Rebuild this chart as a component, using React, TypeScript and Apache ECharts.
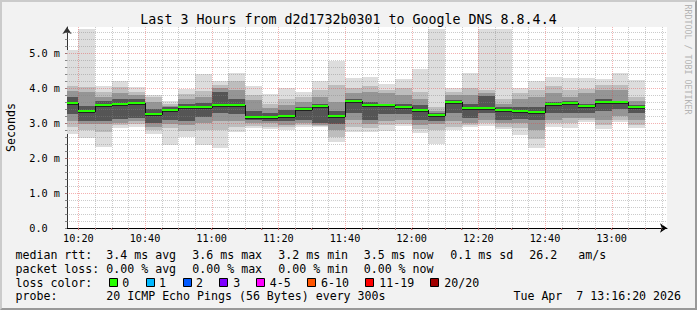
import React, { useEffect, useRef } from "react";
import * as echarts from "echarts";

// ---- data (milliseconds) ----
const bucketStarts = [
  "10:15", "10:20", "10:25", "10:30", "10:35", "10:40", "10:45", "10:50", "10:55",
  "11:00", "11:05", "11:10", "11:15", "11:20", "11:25", "11:30", "11:35", "11:40",
  "11:45", "11:50", "11:55", "12:00", "12:05", "12:10", "12:15", "12:20", "12:25",
  "12:30", "12:35", "12:40", "12:45", "12:50", "12:55", "13:00", "13:05",
];
const rttMin = [2.69, 2.56, 2.32, 2.86, 2.88, 2.69, 2.38, 2.59, 2.38, 2.29, 2.75, 2.86, 2.83, 2.80, 2.89, 2.88, 2.47, 2.75, 2.73, 2.78, 2.91, 2.71, 2.39, 2.80, 2.88, 2.91, 2.83, 2.67, 2.29, 2.88, 2.87, 3.02, 2.83, 3.04, 2.87];
const rttLo2 = [2.88, 2.81, 2.75, 2.95, 2.97, 2.80, 2.85, 2.78, 2.80, 2.80, 2.88, 2.92, 2.90, 2.88, 2.95, 2.92, 2.60, 2.90, 2.85, 2.95, 2.98, 2.82, 2.80, 2.90, 2.95, 3.00, 2.90, 2.85, 2.55, 3.00, 3.00, 3.08, 2.95, 3.10, 2.95];
const rttLo3 = [3.07, 2.97, 2.97, 3.00, 3.05, 2.90, 2.97, 2.95, 3.00, 3.05, 3.05, 3.00, 3.00, 2.95, 3.00, 2.95, 2.80, 3.10, 2.97, 3.05, 3.10, 2.95, 2.98, 3.05, 3.00, 3.10, 3.00, 3.00, 2.80, 3.10, 3.15, 3.15, 3.10, 3.20, 3.10];
const rttLo4 = [3.26, 3.07, 3.05, 3.12, 3.15, 3.00, 3.10, 3.07, 3.16, 3.30, 3.25, 3.08, 3.07, 3.05, 3.08, 3.00, 2.97, 3.30, 3.10, 3.25, 3.25, 3.10, 3.07, 3.30, 3.15, 3.30, 3.10, 3.12, 3.10, 3.30, 3.30, 3.30, 3.35, 3.40, 3.30];
const rttMedian = [3.58, 3.35, 3.52, 3.55, 3.58, 3.27, 3.36, 3.46, 3.46, 3.51, 3.51, 3.18, 3.18, 3.21, 3.41, 3.49, 3.21, 3.64, 3.52, 3.52, 3.47, 3.37, 3.24, 3.61, 3.43, 3.43, 3.38, 3.34, 3.32, 3.54, 3.58, 3.49, 3.59, 3.59, 3.47];
const rttHi4 = [3.73, 3.50, 3.62, 3.70, 3.68, 3.40, 3.45, 3.54, 3.56, 3.88, 3.70, 3.35, 3.30, 3.38, 3.45, 3.55, 3.35, 3.70, 3.60, 3.55, 3.55, 3.52, 3.28, 3.66, 3.55, 3.78, 3.45, 3.45, 3.45, 3.60, 3.62, 3.55, 3.70, 3.60, 3.52];
const rttHi3 = [3.92, 3.90, 3.75, 3.85, 3.80, 3.59, 3.50, 3.70, 3.73, 4.00, 3.95, 3.65, 3.42, 3.52, 3.60, 3.75, 3.60, 3.85, 3.90, 3.85, 3.80, 3.70, 3.35, 3.80, 3.80, 3.85, 3.55, 3.70, 3.75, 3.85, 3.75, 3.85, 3.95, 3.95, 3.62];
const rttHi2 = [4.07, 4.02, 3.90, 4.02, 3.90, 3.75, 3.55, 3.83, 3.92, 4.10, 4.20, 3.80, 3.55, 3.70, 3.75, 3.95, 4.10, 4.00, 4.05, 3.95, 4.00, 3.88, 3.45, 3.90, 4.00, 3.95, 3.70, 3.85, 3.95, 4.05, 3.95, 3.98, 4.10, 4.10, 3.75];
const rttMax = [5.09, 5.68, 4.07, 4.21, 4.02, 3.80, 3.64, 3.98, 4.39, 4.21, 4.44, 4.06, 3.83, 4.01, 3.89, 4.21, 4.78, 4.29, 4.32, 4.11, 4.26, 4.54, 5.68, 4.00, 4.44, 5.68, 5.68, 4.00, 4.20, 4.31, 4.28, 4.28, 4.26, 4.43, 4.22];

const xTickLabels = ["10:20", "10:40", "11:00", "11:20", "11:40", "12:00", "12:20", "12:40", "13:00"];
const yTickValues = [0, 1, 2, 3, 4, 5];

const titleText = "Last 3 Hours from d2d1732b0301 to Google DNS 8.8.4.4";
const medianRttStats = ["3.4 ms avg", "3.6 ms max", "3.2 ms min", "3.5 ms now", "0.1 ms sd", "26.2", "am/s"];
const packetLossStats = ["0.00 % avg", "0.00 % max", "0.00 % min", "0.00 % now"];
const lossLabels = ["0", "1", "2", "3", "4-5", "6-10", "11-19", "20/20"];
const lossColors = ["#26ff00", "#00b8ff", "#0059ff", "#7e00ff", "#ff00ff", "#ff5500", "#ff0000", "#a10000"];
const probeText = "20 ICMP Echo Pings (56 Bytes) every 300s";
const stampText = "Tue Apr  7 13:16:20 2026";
const watermark = "RRDTOOL / TOBI OETIKER";

// ---- layout ----
const STEP = 5; // minutes per bucket
const X_MIN = 16.6;
const X_MAX = 196.6;
const Y_MAX = 5.743;
const MONO = "DejaVu Sans Mono";
const smokeColors = ["#dddddd", "#bdbdbd", "#959595", "#555555"];
const statX = [106.3, 192.3, 278.3, 363.7, 450.3, 529.3, 578.3];
const lossBoxX = [108.7, 145.7, 182.7, 219.3, 256, 307.3, 365.3, 430.3];
const lossTextX = [122.3, 159, 196, 233.3, 269.7, 321, 379.3, 444.3];
const rowY = [254.5, 268.5, 282.5, 296.3];

const toMin = (t: string) => {
  const [h, m] = t.split(":").map(Number);
  return (h - 10) * 60 + m;
};
const fmtMin = (v: number) => {
  const h = Math.floor(v / 60) + 10;
  const m = Math.round(v % 60);
  return `${h}:${m < 10 ? "0" + m : m}`;
};

const starts = bucketStarts.map(toMin);
const smokeData = starts.map((s, i) => [
  s, rttMin[i], rttLo2[i], rttLo3[i], rttLo4[i], rttMedian[i], rttHi4[i], rttHi3[i], rttHi2[i], rttMax[i],
]);
const medianData = starts.map((s, i) => [s, rttMedian[i]]);
const xTickValues = xTickLabels.map(toMin);

// grid structure (axis ticks, not data)
const gridData: number[][] = [];
for (let m = 20; m <= 195; m += 5) gridData.push([m % 20 === 0 ? 1 : 0, m]);
for (let k = 1; k <= 28; k++) gridData.push([k % 5 === 0 ? 3 : 2, k / 5]);
const xMinorTicks = gridData.filter((d) => d[0] < 2).map((d) => d[1]);
const yMinorTicks = gridData.filter((d) => d[0] >= 2).map((d) => d[1]).concat([0]);

function textEl(text: string, x: number, y: number, size: number, extra: any = {}) {
  return {
    type: "text",
    x,
    y,
    silent: true,
    style: { text, fontFamily: MONO, fontSize: size, fill: "#000", verticalAlign: "middle", align: "left", ...extra },
  };
}

function buildOption(): any {
  const graphics: any[] = [];
  graphics.push(textEl("median rtt:", 15.5, rowY[0], 11.6));
  medianRttStats.forEach((t, i) => graphics.push(textEl(t, statX[i], rowY[0], 11.6)));
  graphics.push(textEl("packet loss:", 15.5, rowY[1], 11.6));
  packetLossStats.forEach((t, i) => graphics.push(textEl(t, statX[i], rowY[1], 11.6)));
  graphics.push(textEl("loss color:", 15.5, rowY[2], 11.6));
  lossLabels.forEach((t, i) => {
    graphics.push({
      type: "rect",
      silent: true,
      shape: { x: Math.round(lossBoxX[i]) + 0.5, y: 278.5, width: 8, height: 8 },
      style: { fill: lossColors[i], stroke: "#000", lineWidth: 1 },
    });
    graphics.push(textEl(t, lossTextX[i], rowY[2], 11.6));
  });
  graphics.push(textEl("probe:", 15.5, rowY[3], 11.6));
  graphics.push(textEl(probeText, statX[0], rowY[3], 11.6));
  graphics.push(textEl(stampText, 681, rowY[3], 11.6, { align: "right" }));
  graphics.push({
    type: "text",
    x: 688,
    y: 59.5,
    rotation: -Math.PI / 2,
    silent: true,
    style: { text: watermark, fontFamily: MONO, fontSize: 8.3, fill: "#b4b4b4", align: "center", verticalAlign: "middle" },
  });

  return {
    animation: false,
    backgroundColor: "transparent",
    title: {
      text: titleText,
      left: "center",
      top: 12.5,
      padding: 0,
      textStyle: { fontFamily: MONO, fontSize: 13.3, fontWeight: "normal", color: "#000", lineHeight: 14 },
    },
    grid: {
      left: 67,
      top: 27,
      width: 600,
      height: 201,
      show: true,
      backgroundColor: "#ffffff",
      borderWidth: 0,
      containLabel: false,
      outerBoundsMode: "none",
    },
    xAxis: {
      type: "value",
      min: X_MIN,
      max: X_MAX,
      axisLine: {
        show: true,
        onZero: false,
        symbol: ["none", "arrow"],
        symbolSize: [7, 7],
        lineStyle: { color: "#000", width: 1 },
      },
      axisTick: { show: true, customValues: xMinorTicks, length: 2, lineStyle: { color: "#b07070" } },
      axisLabel: {
        customValues: xTickValues,
        formatter: (v: number) => fmtMin(v),
        fontFamily: MONO,
        fontSize: 10.2,
        color: "#000",
        margin: 5,
      },
      splitLine: { show: false },
    },
    yAxis: {
      type: "value",
      min: 0,
      max: Y_MAX,
      interval: 1,
      name: "Seconds",
      nameLocation: "middle",
      nameGap: 50,
      nameRotate: 90,
      nameTextStyle: { fontFamily: MONO, fontSize: 11.6, color: "#000" },
      axisLine: {
        show: true,
        symbol: ["none", "arrow"],
        symbolSize: [7, 7],
        lineStyle: { color: "#333", width: 1 },
      },
      axisTick: { show: true, customValues: yMinorTicks, length: 2, lineStyle: { color: "#888" } },
      axisLabel: {
        customValues: yTickValues,
        formatter: (v: number) => (v === 0 ? "{z|0.0}" : `${v.toFixed(1)} m`),
        fontFamily: MONO,
        fontSize: 10.2,
        color: "#000",
        margin: 7,
        rich: { z: { fontFamily: MONO, fontSize: 10.2, color: "#000", padding: [0, 12.3, 0, 0] } },
      },
      splitLine: { show: false },
    },
    series: [
      {
        type: "custom",
        name: "smoke",
        z: 2,
        silent: true,
        data: smokeData,
        renderItem: (params: any, api: any) => {
          const cs = params.coordSys;
          const s = api.value(0) as number;
          const x0 = Math.round(Math.max(api.coord([s, 0])[0], cs.x));
          const x1 = Math.round(Math.min(api.coord([s + STEP, 0])[0], cs.x + cs.width));
          const children: any[] = [];
          for (let b = 0; b < 4; b++) {
            const lo = api.value(1 + b) as number;
            const hi = api.value(9 - b) as number;
            const yTop = Math.round(api.coord([s, hi])[1]);
            const yBot = Math.round(api.coord([s, lo])[1]);
            children.push({
              type: "rect",
              shape: { x: x0, y: yTop, width: x1 - x0, height: yBot - yTop },
              style: { fill: smokeColors[b] },
            });
          }
          return { type: "group", children };
        },
      },
      {
        type: "custom",
        name: "grid",
        z: 3,
        silent: true,
        data: gridData,
        renderItem: (params: any, api: any) => {
          const cs = params.coordSys;
          const kind = api.value(0) as number;
          const v = api.value(1) as number;
          const major = kind === 1 || kind === 3;
          const color = major ? "rgba(228,70,70,0.42)" : "rgba(130,130,130,0.42)";
          let shape;
          if (kind < 2) {
            const x = Math.round(api.coord([v, 0])[0]) + 0.5;
            if (x > cs.x + cs.width) return null;
            shape = { x1: x, y1: cs.y, x2: x, y2: cs.y + cs.height + 2 };
          } else {
            const y = Math.round(api.coord([X_MIN, v])[1]) + 0.5;
            shape = { x1: cs.x - 2, y1: y, x2: cs.x + cs.width, y2: y };
          }
          return {
            type: "line",
            shape,
            style: { stroke: color, lineWidth: 1, lineDash: [1, 1] },
          };
        },
      },
      {
        type: "custom",
        name: "median",
        z: 5,
        silent: true,
        data: medianData,
        renderItem: (params: any, api: any) => {
          const cs = params.coordSys;
          const i = params.dataIndex;
          const s = api.value(0) as number;
          const x0 = Math.round(Math.max(api.coord([s, 0])[0], cs.x));
          const x1 = Math.round(Math.min(api.coord([s + STEP, 0])[0], cs.x + cs.width));
          const y = Math.round(api.coord([s, api.value(1)])[1]);
          const children: any[] = [
            { type: "line", shape: { x1: x0, y1: y + 1.5, x2: x1, y2: y + 1.5 }, style: { stroke: "#222", lineWidth: 1 } },
          ];
          if (i > 0) {
            const yp = Math.round(api.coord([s, medianData[i - 1][1]])[1]);
            children.push({
              type: "line",
              shape: { x1: x0 + 0.5, y1: Math.min(y, yp), x2: x0 + 0.5, y2: Math.max(y, yp) + 1 },
              style: { stroke: "#111", lineWidth: 1 },
            });
          }
          children.push({
            type: "rect",
            shape: { x: x0, y: y - 1, width: x1 - x0, height: 2 },
            style: { fill: lossColors[0] },
          });
          return { type: "group", children };
        },
      },
    ],
    graphic: graphics,
  };
}

export default function App() {
  const ref = useRef<HTMLDivElement>(null);
  useEffect(() => {
    if (!ref.current) return;
    const chart = echarts.init(ref.current, null, { renderer: "svg" });
    chart.setOption(buildOption());
    return () => chart.dispose();
  }, []);
  return (
    <div style={{ position: "fixed", left: 0, top: 0, width: 697, height: 310, background: "#f2f2f2" }}>
      <div ref={ref} style={{ position: "absolute", left: 0, top: 0, width: 697, height: 310 }} />
      <div
        style={{
          position: "absolute",
          left: 0,
          top: 0,
          width: 697,
          height: 310,
          boxSizing: "border-box",
          borderTop: "2px solid #cbcbcb",
          borderLeft: "2px solid #cbcbcb",
          borderRight: "2px solid #999999",
          borderBottom: "2px solid #999999",
          pointerEvents: "none",
        }}
      />
    </div>
  );
}
